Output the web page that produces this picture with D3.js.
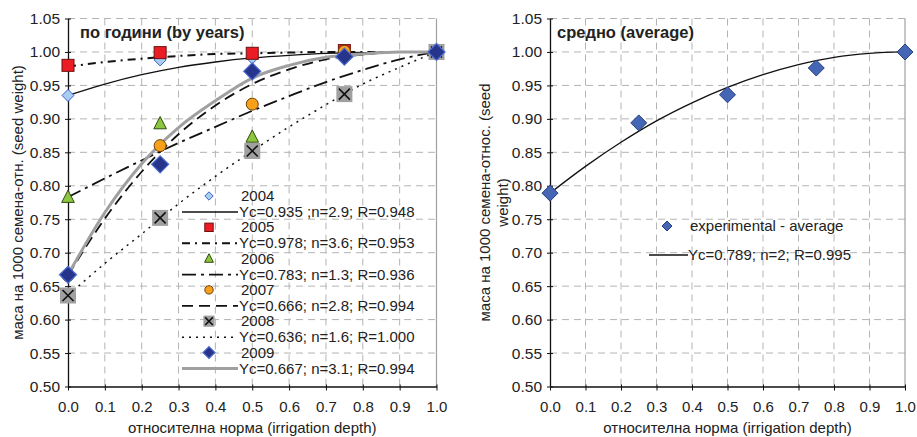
<!DOCTYPE html>
<html>
<head>
<meta charset="UTF-8">
<script src="https://d3js.org/d3.v7.min.js"></script>
<style>
  body { margin: 0; background: #fff; }
  text { font-family: "Liberation Sans", Arial, sans-serif; fill: #222; }
</style>
</head>
<body>
<div id="chart"></div>
<script>
// observed points (relative seed weight) at relative irrigation depth
const obsX = [0, 0.25, 0.5, 0.75, 1.0];
const years = ["2004", "2005", "2006", "2007", "2008", "2009"];
const obs2004 = [0.935, 0.988, 0.991, 0.995, 1.0];
const obs2005 = [0.980, 0.999, 0.998, 1.002, 1.0];
const obs2006 = [0.783, 0.893, 0.873, 1.000, 1.0];
const obs2007 = [0.666, 0.860, 0.922, 1.001, 1.0];
const obs2008 = [0.636, 0.752, 0.852, 0.937, 1.0];
const obs2009 = [0.667, 0.832, 0.971, 0.993, 1.0];

// fitted curves
const fitX = [0, 0.1, 0.2, 0.3, 0.4, 0.5, 0.6, 0.7, 0.8, 0.9, 1.0];
const fit2004 = [0.935, 0.952, 0.966, 0.977, 0.985, 0.991, 0.995, 0.998, 0.999, 1.0, 1.0];
const fit2005 = [0.978, 0.985, 0.990, 0.994, 0.997, 0.998, 0.999, 1.0, 1.0, 1.0, 1.0];
const fit2006 = [0.783, 0.811, 0.838, 0.864, 0.888, 0.912, 0.934, 0.955, 0.973, 0.989, 1.0];
const fit2007 = [0.666, 0.751, 0.821, 0.877, 0.920, 0.952, 0.974, 0.989, 0.996, 1.0, 1.0];
const fit2008 = [0.636, 0.684, 0.728, 0.773, 0.814, 0.852, 0.888, 0.921, 0.952, 0.977, 1.0];
const fit2009 = [0.667, 0.760, 0.833, 0.887, 0.927, 0.961, 0.980, 0.992, 0.997, 1.0, 1.0];
const fitLabels = [
  "Yc=0.935 ;n=2.9; R=0.948",
  "Yc=0.978; n=3.6; R=0.953",
  "Yc=0.783; n=1.3; R=0.936",
  "Yc=0.666; n=2.8; R=0.994",
  "Yc=0.636; n=1.6; R=1.000",
  "Yc=0.667; n=3.1; R=0.994"
];

// average panel
const avgObs = [0.789, 0.894, 0.936, 0.976, 1.0];
const avgFit = [0.789, 0.829, 0.865, 0.897, 0.924, 0.947, 0.966, 0.981, 0.992, 0.998, 1.0];
const avgLabels = ["experimental - average", "Yc=0.789; n=2; R=0.995"];

const xTicks = [0, 0.1, 0.2, 0.3, 0.4, 0.5, 0.6, 0.7, 0.8, 0.9, 1.0];
const yTicks = [0.50, 0.55, 0.60, 0.65, 0.70, 0.75, 0.80, 0.85, 0.90, 0.95, 1.00, 1.05];

const width = 917, height = 437;
const svg = d3.select("#chart").append("svg")
  .attr("width", width).attr("height", height);

const obsSets = [obs2004, obs2005, obs2006, obs2007, obs2008, obs2009];
const fitSets = [fit2004, fit2005, fit2006, fit2007, fit2008, fit2009];

// line styles per year
const lineStyle = [
  {stroke: "#111", width: 1.3, dash: null},
  {stroke: "#111", width: 2, dash: "8,5,2,5"},
  {stroke: "#111", width: 1.8, dash: "14,5,3,5"},
  {stroke: "#111", width: 1.8, dash: "11,6"},
  {stroke: "#111", width: 1.5, dash: "2,5"},
  {stroke: "#a0a0a0", width: 3, dash: null}
];

function marker(g, i, cx, cy, s) {
  // s = scale factor (1 in plot, smaller in legend)
  if (i === 0) {
    const r = 6 * s;
    g.append("path").attr("d", `M${cx},${cy - r}L${cx + r},${cy}L${cx},${cy + r}L${cx - r},${cy}Z`)
      .attr("fill", "#a9cdef").attr("stroke", "#3a63c4").attr("stroke-width", 1);
  } else if (i === 1) {
    const h = 6 * s;
    g.append("rect").attr("x", cx - h).attr("y", cy - h).attr("width", 2 * h).attr("height", 2 * h)
      .attr("fill", "#ec1c24").attr("stroke", "#6b1010").attr("stroke-width", 1);
  } else if (i === 2) {
    const h = 7 * s;
    g.append("path").attr("d", `M${cx},${cy - h}L${cx + h * 0.9},${cy + h * 0.75}L${cx - h * 0.9},${cy + h * 0.75}Z`)
      .attr("fill", "#8dc63f").attr("stroke", "#2e4a10").attr("stroke-width", 1);
  } else if (i === 3) {
    g.append("circle").attr("cx", cx).attr("cy", cy).attr("r", 6 * s)
      .attr("fill", "#f7a11a").attr("stroke", "#6b3c08").attr("stroke-width", 1);
  } else if (i === 4) {
    const h = 8 * s, k = 5.5 * s;
    g.append("rect").attr("x", cx - h).attr("y", cy - h).attr("width", 2 * h).attr("height", 2 * h)
      .attr("fill", "#a0a0a0");
    g.append("path").attr("d", `M${cx - k},${cy - k}L${cx + k},${cy + k}M${cx + k},${cy - k}L${cx - k},${cy + k}`)
      .attr("stroke", "#111").attr("stroke-width", 1.6);
  } else {
    const r = 8.5 * s;
    g.append("path").attr("d", `M${cx},${cy - r}L${cx + r},${cy}L${cx},${cy + r}L${cx - r},${cy}Z`)
      .attr("fill", "#26348c").attr("stroke", "#4a6ad0").attr("stroke-width", 1.2);
  }
}

function frame(x0, x1, ylabelLines, ylabelX, title, titleX) {
  const x = d3.scaleLinear().domain([0, 1]).range([x0, x1]);
  const y = d3.scaleLinear().domain([0.5, 1.05]).range([386.5, 18.5]);
  const g = svg.append("g");

  // grid
  g.selectAll(".vg").data(xTicks.slice(1, -1)).join("line")
    .attr("x1", d => x(d)).attr("x2", d => x(d)).attr("y1", y(1.05)).attr("y2", y(0.5))
    .attr("stroke", "#b4b4b4").attr("stroke-dasharray", "7,5");
  g.selectAll(".hg").data(yTicks.slice(1)).join("line")
    .attr("x1", x(0)).attr("x2", x(1)).attr("y1", d => y(d)).attr("y2", d => y(d))
    .attr("stroke", "#b4b4b4").attr("stroke-dasharray", "7,5");
  g.append("line").attr("x1", x(1)).attr("x2", x(1)).attr("y1", y(1.05)).attr("y2", y(0.5))
    .attr("stroke", "#a0a0a0").attr("stroke-width", 1.2);

  // axes
  const yAxis = g.append("g").attr("transform", `translate(${x(0)},0)`)
    .call(d3.axisLeft(y).tickValues(yTicks).tickFormat(d3.format(".2f")).tickSize(3).tickSizeOuter(0));
  yAxis.select(".domain").attr("stroke", "#111").attr("stroke-width", 1.3);
  yAxis.selectAll(".tick line").attr("x2", 3).attr("x1", -3).attr("stroke", "#111");
  yAxis.selectAll(".tick text").attr("x", -8).attr("font-size", 15.5)
    .attr("font-family", "Liberation Sans, Arial, sans-serif").attr("fill", "#222");

  const xAxis = g.append("g").attr("transform", `translate(0,${y(0.5)})`)
    .call(d3.axisBottom(x).tickValues(xTicks).tickFormat(d3.format(".1f")).tickSize(4).tickSizeOuter(0));
  xAxis.select(".domain").attr("stroke", "#111").attr("stroke-width", 1.3);
  xAxis.selectAll(".tick line").attr("y1", -2).attr("y2", 4).attr("stroke", "#111");
  xAxis.selectAll(".tick text").attr("y", 15).attr("font-size", 15)
    .attr("font-family", "Liberation Sans, Arial, sans-serif").attr("fill", "#222");

  g.append("text").attr("x", (x0 + x1) / 2).attr("y", 433)
    .attr("text-anchor", "middle").attr("font-size", 15)
    .text("относителна норма (irrigation depth)");

  ylabelLines.forEach((t, i) => {
    g.append("text")
      .attr("transform", `translate(${ylabelX[i]},${(y(0.5) + y(1.05)) / 2}) rotate(-90)`)
      .attr("text-anchor", "middle").attr("font-size", 15).text(t);
  });

  g.append("text").attr("x", titleX).attr("y", 38)
    .attr("font-size", 16.5).attr("font-weight", "bold").text(title);

  return {x, y, g};
}

// ---- left panel: by years
const L = frame(68, 436.5, ["маса на 1000 семена-отн. (seed weight)"], [23],
  "по години (by years)", 80);

const line = d3.line().curve(d3.curveMonotoneX);
fitSets.forEach((fit, i) => {
  const st = lineStyle[i];
  L.g.append("path")
    .attr("d", line(fitX.map((v, j) => [L.x(v), L.y(fit[j])])))
    .attr("fill", "none").attr("stroke", st.stroke).attr("stroke-width", st.width)
    .attr("stroke-dasharray", st.dash);
});
obsSets.forEach((obs, i) => {
  obs.forEach((v, j) => marker(L.g, i, L.x(obsX[j]), L.y(v), 1));
});

// legend
const lg = L.g.append("g");
years.forEach((yr, i) => {
  const y0 = 196 + i * 31.3;
  marker(lg, i, 209, y0, 0.7);
  lg.append("text").attr("x", 241).attr("y", y0 + 5).attr("font-size", 15).text(yr);
  const st = lineStyle[i];
  lg.append("line").attr("x1", 182).attr("x2", 238).attr("y1", y0 + 16).attr("y2", y0 + 16)
    .attr("stroke", st.stroke).attr("stroke-width", st.width).attr("stroke-dasharray", st.dash);
  lg.append("text").attr("x", 239).attr("y", y0 + 21).attr("font-size", 15).text(fitLabels[i]);
});

// ---- right panel: average
const R = frame(550, 905, ["маса на 1000 семена-относ. (seed", "weight)"], [490, 508],
  "средно (average)", 557);

R.g.append("path")
  .attr("d", line(fitX.map((v, j) => [R.x(v), R.y(avgFit[j])])))
  .attr("fill", "none").attr("stroke", "#111").attr("stroke-width", 1.3);

function avgDiamond(g, cx, cy, r) {
  g.append("path").attr("d", `M${cx},${cy - r}L${cx + r},${cy}L${cx},${cy + r}L${cx - r},${cy}Z`)
    .attr("fill", "#4466b4").attr("stroke", "#2a3f80").attr("stroke-width", 1);
}
avgObs.forEach((v, j) => avgDiamond(R.g, R.x(obsX[j]), R.y(v), 8));

avgDiamond(R.g, 667, 226, 5);
R.g.append("text").attr("x", 690).attr("y", 231).attr("font-size", 15).text(avgLabels[0]);
R.g.append("line").attr("x1", 649).attr("x2", 688).attr("y1", 255).attr("y2", 255)
  .attr("stroke", "#111").attr("stroke-width", 1.3);
R.g.append("text").attr("x", 688).attr("y", 260).attr("font-size", 15).text(avgLabels[1]);
</script>
</body>
</html>
